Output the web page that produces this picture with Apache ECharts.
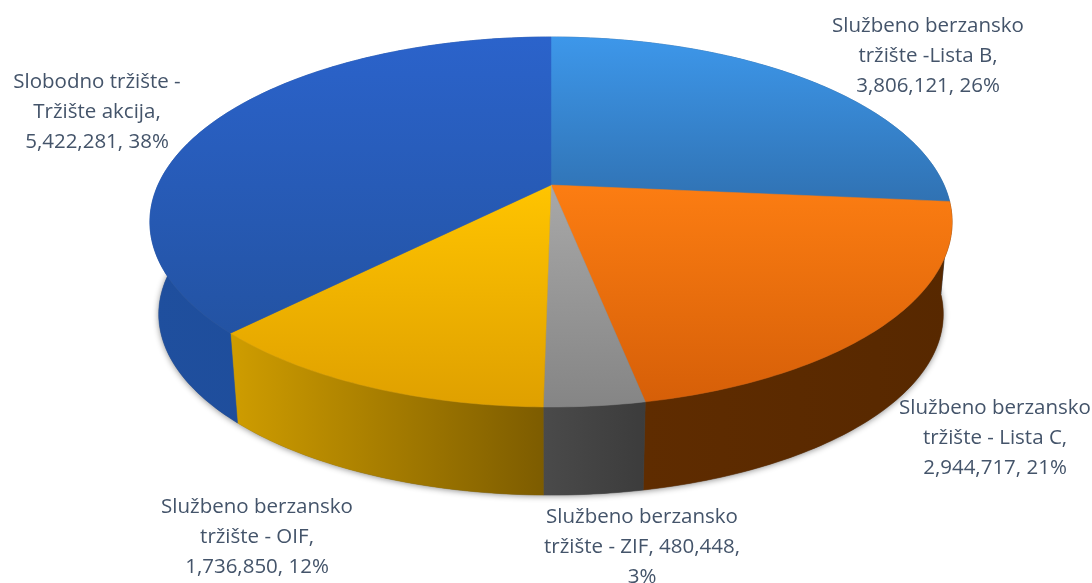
<!DOCTYPE html>
<html>
<head>
<meta charset="utf-8">
<title>Promet po tržištima</title>
<style>
html, body { margin: 0; padding: 0; background: #fff; }
#chart { width: 1092px; height: 583px; overflow: hidden; }
</style>
<script src="https://cdn.jsdelivr.net/npm/echarts@6/dist/echarts.min.js"></script>
</head>
<body>
<div id="chart"></div>
<script>
// podaci
const categories = [
    'Službeno berzansko tržište -Lista B',
    'Službeno berzansko tržište - Lista C',
    'Službeno berzansko tržište - ZIF',
    'Službeno berzansko tržište - OIF',
    'Slobodno tržište - Tržište akcija'
]
const values = [3806121, 2944717, 480448, 1736850, 5422281]
const labelTexts = [
    'Službeno berzansko\ntržište -Lista B,\n3,806,121, 26%',
    'Službeno berzansko\ntržište - Lista C,\n2,944,717, 21%',
    'Službeno berzansko\ntržište - ZIF, 480,448,\n3%',
    'Službeno berzansko\ntržište - OIF,\n1,736,850, 12%',
    'Slobodno tržište -\nTržište akcija,\n5,422,281, 38%'
]

// izgled
const labelPos = [[928, 56], [995, 438], [642, 547], [257, 537], [97, 112]]
const topColors = [
    ['#3d97ea', '#3072b3'],
    ['#fc7d12', '#d65f08'],
    ['#a8a8a8', '#858585'],
    ['#ffc400', '#dfa000'],
    ['#2b63cb', '#2353a3']
]
const wallColors = [
    ['#2a5f94', '#2a5f94'],
    ['#5f2c00', '#572800'],
    ['#4a4a4a', '#3c3c3c'],
    ['#cf9d00', '#7d5c00'],
    ['#1f4f9e', '#1d4a96']
]
const pie = { cx: 551, cy: 185, a: 393, b: 177.6, k: 0.2, depth: 93, shrink: 0.978 }

const total = values.reduce((s, v) => s + v, 0)
let run = 0
const angles = values.map(v => {
    const start = run / total * 360
    run += v
    return [start, run / total * 360]
})

// tocka na rubu kruga u perspektivi (level 0 = gornja ploha, 1 = donja)
function project(deg, level) {
    const t = deg * Math.PI / 180
    const u = Math.sin(t)
    const v = -Math.cos(t)
    const w = 1 - pie.k * v
    const s = level ? pie.shrink : 1
    return [
        pie.cx + pie.a * s * u / w,
        pie.cy + (level ? pie.depth : 0) + pie.b * s * v / w
    ]
}

function arc(start, end, level) {
    const pts = []
    const n = Math.max(2, Math.ceil(end - start))
    for (let i = 0; i <= n; i++) {
        pts.push(project(start + (end - start) * i / n, level))
    }
    return pts
}

function renderShadow() {
    return {
        type: 'polygon',
        shape: { points: arc(0, 360, 1) },
        style: { fill: '#666', shadowBlur: 6, shadowColor: 'rgba(0,0,0,0.45)', shadowOffsetY: 1 }
    }
}

function renderWall(params, api) {
    const i = params.dataIndex
    const [start, end] = angles[i]
    const top = arc(start, end, 0)
    const bottom = arc(start, end, 1).reverse()
    const xs = top.map(p => p[0])
    const c = wallColors[i]
    // grad ide s lijeva na desno po prednjoj strani
    const fill = new echarts.graphic.LinearGradient(
        Math.min(...xs), 0, Math.max(...xs), 0,
        [{ offset: 0, color: c[0] }, { offset: 1, color: c[1] }], true)
    return {
        type: 'polygon',
        shape: { points: top.concat(bottom) },
        style: { fill: fill, stroke: fill, lineWidth: 0.5 }
    }
}

function renderTop(params, api) {
    const i = params.dataIndex
    const [start, end] = angles[i]
    const c = topColors[i]
    const points = [[pie.cx, pie.cy]].concat(arc(start, end, 0))
    const ys = points.map(p => p[1])
    const fill = new echarts.graphic.LinearGradient(
        0, Math.min(...ys), 0, Math.max(...ys),
        [{ offset: 0, color: c[0] }, { offset: 1, color: c[1] }], true)
    return {
        type: 'polygon',
        shape: { points: points },
        style: { fill: fill, stroke: fill, lineWidth: 0.5 }
    }
}

const seriesData = categories.map((name, i) => ({ name: name, value: values[i] }))

const myChart = echarts.init(document.getElementById('chart'), null, { renderer: 'canvas' })

const option = {
    animation: false,
    backgroundColor: '#fff',
    series: [
        { type: 'custom', coordinateSystem: 'none', renderItem: renderShadow, data: [1], silent: true, z: 1 },
        { type: 'custom', coordinateSystem: 'none', renderItem: renderWall, data: seriesData, z: 2 },
        { type: 'custom', coordinateSystem: 'none', renderItem: renderTop, data: seriesData, z: 3 }
    ],
    graphic: labelTexts.map((text, i) => ({
        type: 'text',
        x: labelPos[i][0],
        y: labelPos[i][1],
        z: 10,
        style: {
            text: text,
            fill: '#44546a',
            font: '20.5px "Open Sans"',
            lineHeight: 30,
            align: 'center',
            verticalAlign: 'middle'
        }
    }))
}

myChart.setOption(option)
</script>
</body>
</html>
